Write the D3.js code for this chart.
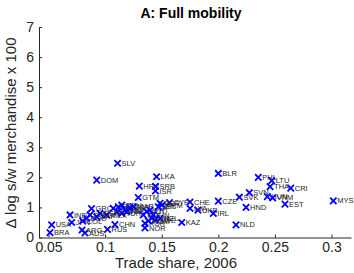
<!DOCTYPE html>
<html>
<head>
<meta charset="utf-8">
<script src="https://cdn.jsdelivr.net/npm/d3@7"></script>
<style>
  body { margin: 0; background: #fff; }
  text { font-family: "Liberation Sans", Arial, sans-serif; }
</style>
</head>
<body>
<div id="chart"></div>
<script>
// country codes, trade share 2006, change in log s/w merchandise x 100
const codes = ["SLV","DOM","LKA","BLR","PHL","LTU","HRV","SRB","THA","CRI",
  "ISR","SVN","SVK","GTM","HUN","VNM","MYS","CZE","CHE","CYP",
  "EST","HND","UKR","LVA","IRL","GRC","IND","KAZ","NLD","USA",
  "JPN","COL","CHN","ARG","AUS","RUS","BRA","NOR",
  "ITA","FRA","DEU","ESP","GBR","MAR","CAN","TUR","PAK","PER",
  "MEX","EGY","BGD","ZAF",
  "POL","AUT","PRT","FIN","BEL","BGR","DNK","SWE","NZL","KOR","ROM","ARM"];
const shares = [0.111,0.0926,0.1454,0.200,0.2353,0.2472,0.1302,0.1445,0.2457,0.264,
  0.1445,0.2274,0.2186,0.1293,0.2433,0.248,0.3016,0.200,0.175,0.1569,
  0.2589,0.2245,0.182,0.175,0.1956,0.088,0.069,0.1677,0.2156,0.0528,
  0.0705,0.0802,0.1087,0.0796,0.0822,0.1021,0.0513,0.1352,
  0.1072,0.1117,0.1147,0.1176,0.122,0.1249,0.1102,0.1147,0.1191,0.0955,
  0.1014,0.0867,0.0837,0.0926,
  0.1337,0.1367,0.1397,0.1426,0.147,0.1485,0.1412,0.1441,0.1485,0.1352,0.1382,0.1503];
const changes = [2.47,1.91,2.02,2.13,2.00,1.89,1.71,1.70,1.69,1.64,
  1.55,1.49,1.34,1.33,1.36,1.32,1.22,1.21,1.18,1.16,
  1.11,1.00,0.91,0.97,0.80,0.96,0.75,0.50,0.42,0.42,
  0.50,0.55,0.43,0.25,0.15,0.27,0.16,0.32,
  0.97,1.02,1.08,0.91,0.99,1.02,0.86,0.80,0.86,0.80,
  0.75,0.75,0.64,0.69,
  0.75,0.86,0.91,0.75,1.02,1.14,0.64,0.58,0.64,0.47,0.55,1.08];
const xTicks = [0.05, 0.1, 0.15, 0.2, 0.25, 0.3];
const yTicks = [0, 1, 2, 3, 4, 5, 6, 7];

const width = 354, height = 273;
const margin = {top: 27, right: 3, bottom: 35.5, left: 39};

const svg = d3.select("#chart")
  .append("svg")
  .attr("width", width)
  .attr("height", height);

const x = d3.scaleLinear()
  .domain([0.0416, 0.3172])
  .range([margin.left, width - margin.right]);

const y = d3.scaleLinear()
  .domain([0, 7])
  .range([height - margin.bottom, margin.top]);

const axisColor = "#262626";

// x axis, ticks pointing in
const xAxis = svg.append("g")
  .attr("transform", `translate(0, ${height - margin.bottom})`)
  .call(d3.axisBottom(x)
    .tickValues(xTicks)
    .tickFormat(d => String(+d.toFixed(2)))
    .tickSize(-3)
    .tickSizeOuter(0)
    .tickPadding(5));

// y axis
const yAxis = svg.append("g")
  .attr("transform", `translate(${margin.left}, 0)`)
  .call(d3.axisLeft(y)
    .tickValues(yTicks)
    .tickFormat(d3.format("d"))
    .tickSize(-3)
    .tickSizeOuter(0)
    .tickPadding(5));

[xAxis, yAxis].forEach(g => {
  g.select(".domain").attr("stroke", axisColor);
  g.selectAll(".tick line").attr("stroke", axisColor);
  g.selectAll(".tick text")
    .attr("fill", axisColor)
    .style("font-size", "14px")
    .style("font-family", "'Liberation Sans', Arial, sans-serif");
});

const data = codes.map((c, i) => ({code: c, share: shares[i], change: changes[i]}));

// blue x markers
const s = 3.2;
const pts = svg.append("g")
  .selectAll("g")
  .data(data)
  .join("g")
    .attr("transform", d => `translate(${x(d.share)}, ${y(d.change)})`);

pts.append("path")
  .attr("d", `M${-s},${-s}L${s},${s}M${-s},${s}L${s},${-s}`)
  .attr("stroke", "#0000ff")
  .attr("stroke-width", 1.8)
  .attr("fill", "none");

pts.append("text")
  .attr("x", 4)
  .attr("dy", "0.35em")
  .style("font-size", "7.5px")
  .attr("fill", "#262626")
  .text(d => d.code);

// title
svg.append("text")
  .attr("x", 191)
  .attr("y", 18)
  .attr("text-anchor", "middle")
  .style("font-size", "14px")
  .style("font-weight", "bold")
  .text("A: Full mobility");

// axis labels
svg.append("text")
  .attr("x", 176)
  .attr("y", 268)
  .attr("text-anchor", "middle")
  .attr("fill", axisColor)
  .style("font-size", "15px")
  .text("Trade share, 2006");

svg.append("text")
  .attr("transform", "translate(16, 133) rotate(-90)")
  .attr("text-anchor", "middle")
  .attr("fill", axisColor)
  .style("font-size", "15px")
  .text("Δ log s/w merchandise x 100");
</script>
</body>
</html>
